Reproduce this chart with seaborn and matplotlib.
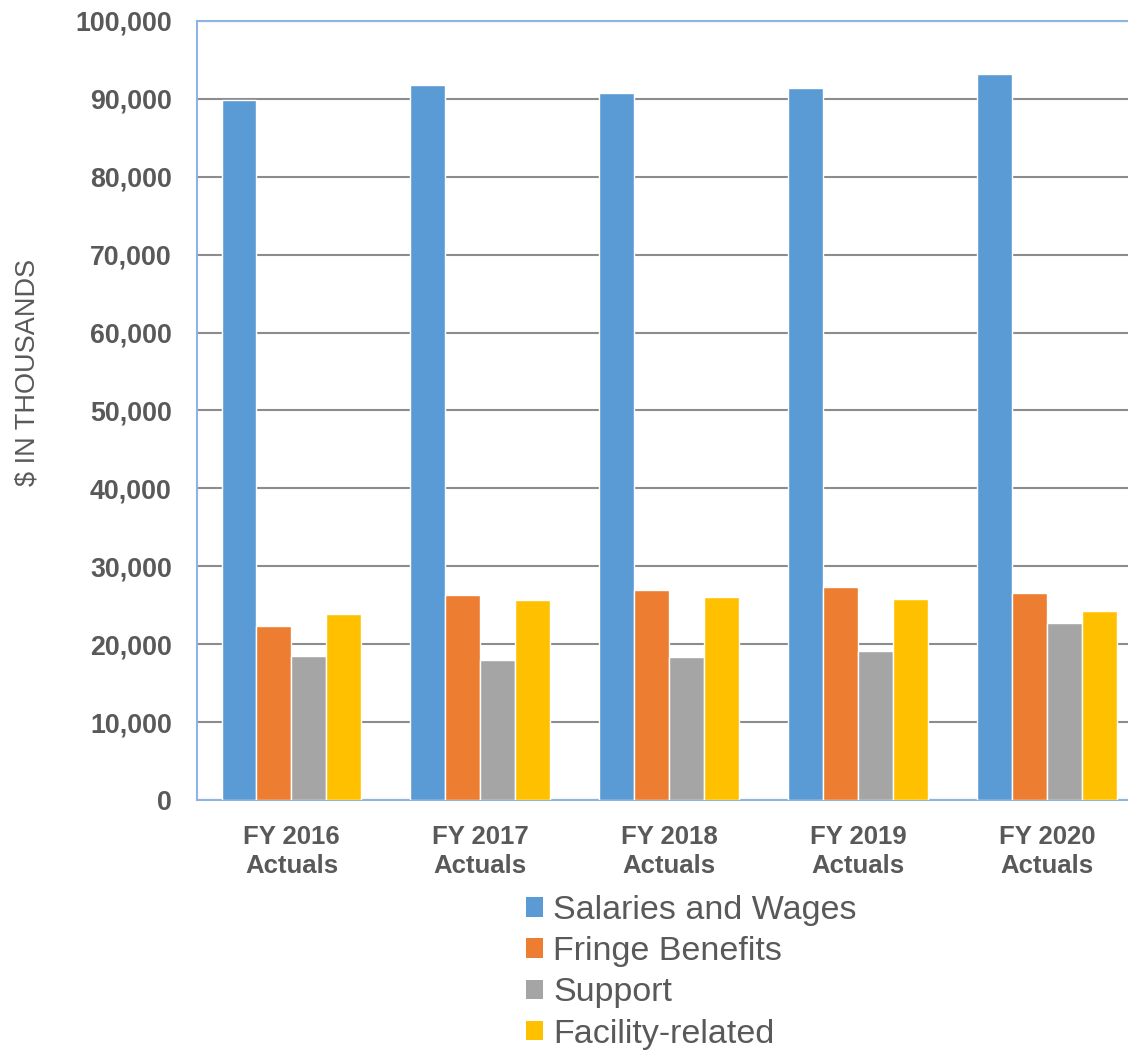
import matplotlib
matplotlib.use("Agg")
import matplotlib.pyplot as plt
import seaborn as sns
import pandas as pd
from matplotlib.patches import Patch

categories = ["FY 2016\nActuals", "FY 2017\nActuals", "FY 2018\nActuals", "FY 2019\nActuals", "FY 2020\nActuals"]
series_names = ["Salaries and Wages", "Fringe Benefits", "Support", "Facility-related"]
salaries = [89900, 91830, 90730, 91370, 93170]
fringe = [22350, 26370, 27010, 27400, 26540]
support = [18500, 17910, 18330, 19190, 22780]
facility = [23880, 25680, 26060, 25860, 24320]
colors = ["#5B9BD5", "#ED7D31", "#A5A5A5", "#FFC000"]
yticks = [0, 10000, 20000, 30000, 40000, 50000, 60000, 70000, 80000, 90000, 100000]

rows = []
for name, vals in zip(series_names, [salaries, fringe, support, facility]):
    for c, v in zip(categories, vals):
        rows.append({"cat": c, "series": name, "value": v})
df = pd.DataFrame(rows)

sns.set_theme(style="white")
plt.rcParams['font.family'] = ['Liberation Sans', 'DejaVu Sans']

fig = plt.figure(figsize=(11.28, 10.5), dpi=100)
ax = fig.add_axes([197/1128, 1 - 800/1050, (1128-197)/1128, (800-21)/1050])

sns.barplot(data=df, x="cat", y="value", hue="series", order=categories,
            hue_order=series_names, palette=colors, width=0.74, dodge=True,
            saturation=1, ax=ax, legend=False, zorder=3)

ax.set_ylim(0, 100000)
ax.set_xlim(-0.5, 4.43)
ax.set_yticks(yticks)
ax.set_yticklabels([f"{t:,}" for t in yticks], fontsize=19.3, fontweight="bold", color="#595959")
ax.set_xticks(range(len(categories)))
ax.set_xticklabels(categories, fontsize=18.5, fontweight="bold", color="#595959", linespacing=1.25)
ax.tick_params(axis="y", length=0, pad=18)
ax.tick_params(axis="x", length=0, pad=18)
ax.yaxis.grid(True, color="#8C8C8C", linewidth=1.5, zorder=0)
ax.set_axisbelow(True)
ax.set_xlabel("")
ax.set_ylabel("")
fig.text(28/1128, 1 - 372/1050, "$ IN THOUSANDS", rotation=90, ha="center", va="center",
         fontsize=19.5, color="#595959")
for side in ["left", "bottom", "top"]:
    ax.spines[side].set_color("#8DB4E2")
    ax.spines[side].set_linewidth(1.5)
ax.spines["right"].set_visible(False)

handles = [Patch(facecolor=c, edgecolor="none") for c in colors]
fig.legend(handles, series_names, loc="upper left", bbox_to_anchor=(526/1128, 1 - 895/1050),
           frameon=False, fontsize=24.5, handlelength=0.5, handleheight=0.5,
           handletextpad=0.3, labelspacing=0.3, labelcolor="#595959", borderaxespad=0,
           borderpad=0)

fig.savefig("out.png", dpi=100)
